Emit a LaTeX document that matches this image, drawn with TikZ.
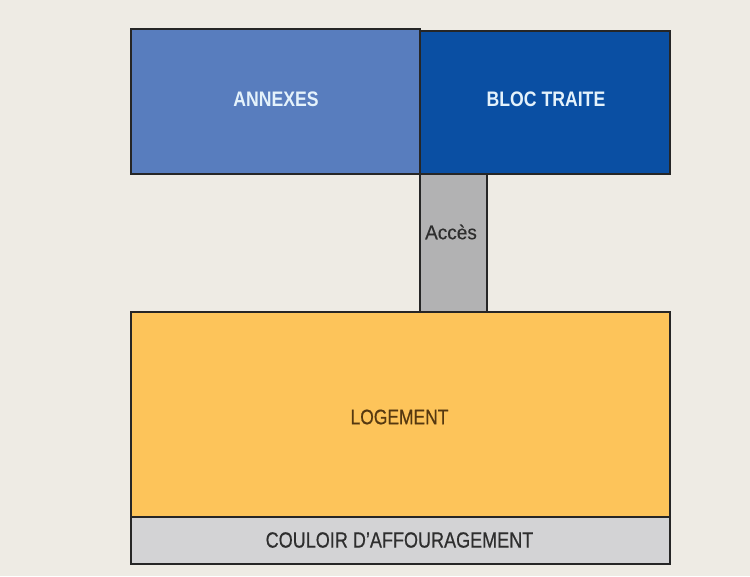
\documentclass[tikz,border=0pt]{standalone}
\usepackage{fontspec}
\setmainfont{Liberation Sans}[FakeStretch=0.85]
\newfontfamily\condbold{Liberation Sans Bold}[FakeStretch=0.84]
\newfontfamily\condlog{Liberation Sans}[FakeStretch=0.83,FakeBold=0.6]
\newfontfamily\condcoul{Liberation Sans}[FakeStretch=0.82,FakeBold=0.5]
\newfontfamily\condacc{Liberation Sans}[FakeStretch=0.95,FakeBold=0.4]
\definecolor{bg}{HTML}{EEEBE4}
\definecolor{annex}{HTML}{587DBE}
\definecolor{bloc}{HTML}{0A4FA3}
\definecolor{acces}{HTML}{B2B2B3}
\definecolor{logt}{HTML}{FDC45A}
\definecolor{couloir}{HTML}{D3D3D5}
\definecolor{edge}{HTML}{262626}
\definecolor{lighttxt}{HTML}{E4F2FB}
\definecolor{darktxt}{HTML}{2E2E2E}
\definecolor{browntxt}{HTML}{553810}
\tikzset{
  room/.style={draw=edge, line width=1.6pt, anchor=north west, inner sep=0pt},
  toplabel/.style={text=lighttxt, font=\condbold\fontsize{21}{25}\selectfont},
}
\begin{document}
\begin{tikzpicture}[x=1pt,y=-1pt]
\useasboundingbox (0,0) rectangle (750,576);
\fill[bg] (0,0) rectangle (750,576);
\node[room, fill=acces, minimum width=67pt, minimum height=138pt] (acc) at (419,173) {};
\node[darktxt, font=\condacc\fontsize{20}{24}\selectfont] (acct) at (451,232) {Accès};
\node[room, fill=annex, minimum width=289pt, minimum height=145pt] (annexes) at (130,28) {};
\node[toplabel] (annext) at (276,99) {ANNEXES};
\node[room, fill=bloc, minimum width=250pt, minimum height=143pt] (bloc) at (419,30) {};
\node[toplabel] (bloct) at (546,99) {BLOC TRAITE};
\node[room, fill=logt, minimum width=539pt, minimum height=205pt] (logement) at (130,311) {};
\node[browntxt, font=\condlog\fontsize{21}{25}\selectfont] (logt) at (399.5,417) {LOGEMENT};
\node[room, fill=couloir, minimum width=539pt, minimum height=47pt] (couloir) at (130,516) {};
\node[darktxt, font=\condcoul\fontsize{22}{26}\selectfont] (coult) at (399.5,540) {COULOIR D’AFFOURAGEMENT};
\end{tikzpicture}
\end{document}
